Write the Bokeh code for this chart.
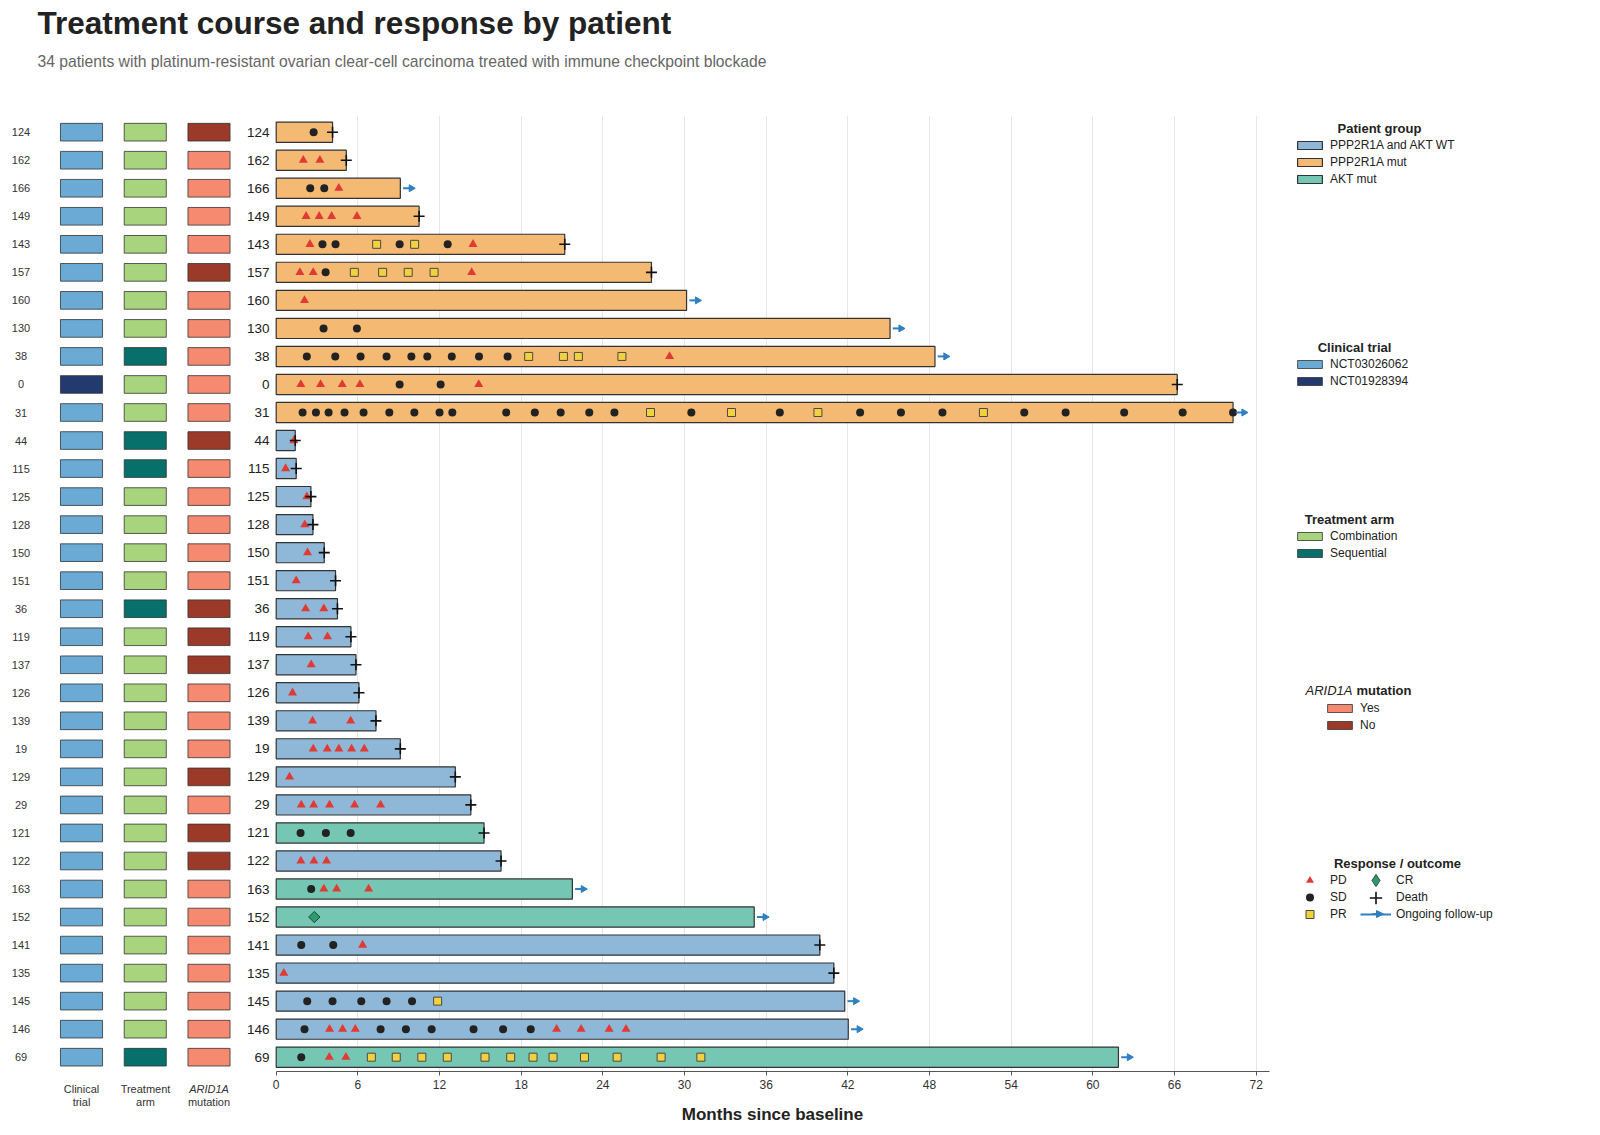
import math
from bokeh.plotting import figure
from bokeh.layouts import column, row
from bokeh.models import (ColumnDataSource, Range1d, FixedTicker, Label, Legend, LegendItem,
                          Arrow, NormalHead)
from bokeh.core.properties import value
from bokeh.embed import file_html
from bokeh.resources import INLINE

# ---------------- data (top row first) ----------------
patients = ["124", "162", "166", "149", "143", "157", "160", "130", "38", "0", "31",
            "44", "115", "125", "128", "150", "151", "36", "119", "137", "126", "139",
            "19", "129", "29", "121", "122", "163", "152", "141", "135", "145", "146", "69"]
group = ["P", "P", "P", "P", "P", "P", "P", "P", "P", "P", "P",
         "W", "W", "W", "W", "W", "W", "W", "W", "W", "W", "W",
         "W", "W", "W", "A", "W", "A", "A", "W", "W", "W", "W", "A"]
trial = ["A", "A", "A", "A", "A", "A", "A", "A", "A", "B", "A",
         "A", "A", "A", "A", "A", "A", "A", "A", "A", "A", "A",
         "A", "A", "A", "A", "A", "A", "A", "A", "A", "A", "A", "A"]
arm = ["C", "C", "C", "C", "C", "C", "C", "C", "S", "C", "C",
       "S", "S", "C", "C", "C", "C", "S", "C", "C", "C", "C",
       "C", "C", "C", "C", "C", "C", "C", "C", "C", "C", "C", "S"]
arid1a = ["N", "Y", "Y", "Y", "Y", "N", "Y", "Y", "Y", "Y", "Y",
          "N", "Y", "Y", "Y", "Y", "Y", "N", "N", "N", "Y", "Y",
          "Y", "N", "Y", "N", "N", "Y", "Y", "Y", "Y", "Y", "Y", "Y"]
duration = [4.14, 5.15, 9.12, 10.5, 21.2, 27.57, 30.15, 45.1, 48.4, 66.2, 70.3,
            1.4, 1.47, 2.55, 2.7, 3.53, 4.36, 4.5, 5.49, 5.86, 6.08, 7.33,
            9.12, 13.16, 14.3, 15.27, 16.52, 21.76, 35.12, 39.94, 40.97, 41.77, 42.03, 61.88]
status = ["D", "D", "O", "D", "D", "D", "O", "O", "O", "D", "O",
          "D", "D", "D", "D", "D", "D", "D", "D", "D", "D", "D",
          "D", "D", "D", "D", "D", "O", "O", "D", "D", "O", "O", "O"]

pd_times = [[], [1.99, 3.21], [4.6], [2.2, 3.16, 4.07, 5.93], [2.48, 14.46],
            [1.74, 2.72, 14.36], [2.08], [], [28.9], [1.81, 3.26, 4.85, 6.15, 14.88], [],
            [1.3], [0.69], [2.25], [2.1], [2.3], [1.47], [2.16, 3.5], [2.35, 3.77], [2.57],
            [1.2], [2.67, 5.47], [2.72, 3.75, 4.6, 5.54, 6.47], [0.98],
            [1.84, 2.75, 3.92, 5.76, 7.67], [], [1.81, 2.77, 3.7], [3.5, 4.44, 6.79], [],
            [6.35], [0.56], [], [3.92, 4.88, 5.81, 20.6, 22.4, 24.46, 25.7], [3.9, 5.12]]
sd_times = [[2.75], [], [2.5, 3.53], [], [3.4, 4.36, 9.07, 12.6], [3.63], [], [3.48, 5.93],
            [2.25, 4.34, 6.2, 8.11, 9.93, 11.1, 12.9, 14.9, 17.0], [9.07, 12.08],
            [1.94, 2.92, 3.85, 5.02, 6.42, 8.31, 10.15, 12.0, 12.94, 16.9, 19.0, 20.9, 23.0,
             24.85, 30.5, 37.0, 42.9, 45.9, 48.95, 54.96, 58.0, 62.3, 66.6, 70.3],
            [], [], [], [], [], [], [], [], [], [], [], [], [], [],
            [1.79, 3.65, 5.47], [], [2.57], [], [1.84, 4.19], [],
            [2.28, 4.14, 6.25, 8.11, 9.98], [2.08, 7.67, 9.53, 11.42, 14.5, 16.67, 18.7], [1.84]]
pr_times = [[], [], [], [], [7.38, 10.17], [5.74, 7.82, 9.7, 11.6], [], [],
            [18.55, 21.1, 22.2, 25.4], [], [27.5, 33.45, 39.8, 51.96],
            [], [], [], [], [], [], [], [], [], [], [], [], [], [], [], [], [], [], [], [],
            [11.86], [],
            [6.99, 8.82, 10.7, 12.57, 15.34, 17.23, 18.87, 20.34, 22.65, 25.05, 28.28, 31.2]]
cr_times = [[] for _ in range(28)] + [[2.8]] + [[] for _ in range(5)]

group_names = {"W": "PPP2R1A and AKT WT", "P": "PPP2R1A mut", "A": "AKT mut"}
trial_names = {"A": "NCT03026062", "B": "NCT01928394"}
arm_names = {"C": "Combination", "S": "Sequential"}
arid_names = {"Y": "Yes", "N": "No"}
x_ticks = [0, 6, 12, 18, 24, 30, 36, 42, 48, 54, 60, 66, 72]

# ---------------- styles ----------------
FONT = "Liberation Sans"
group_colors = {"W": "#8FB8D8", "P": "#F4BA74", "A": "#76C6B4"}
trial_colors = {"A": "#6AAAD4", "B": "#233A6E"}
arm_colors = {"C": "#A8D47E", "S": "#07706A"}
arid_colors = {"Y": "#F58A70", "N": "#9C3A2A"}
PD_COL, SD_COL, PR_COL, CR_COL, ARROW_COL = "#E03A33", "#222222", "#F3D03E", "#2E9A6E", "#2F7FC1"
EDGE = "#333333"

# geometry (pixels)
TOTAL_W = 1580
HEAD_H = 115            # header strip height (frame tops start here)
LEFT_W = 272            # annotation strip width
MAIN_W = 1000           # swimmer frame width
LEG_W = TOTAL_W - LEFT_W - MAIN_W
MAIN_FH = 956           # main frame height (down to the x axis)
SIDE_FH = 1000
PX_PER_MONTH, ZERO_PX = 13.611, 275.7
ROW_PX, ROW0_PX = 28.03, 16.7
ANN_PX, ANN_COL1_PX = 63.75, 81.0

n = len(patients)
rows = list(range(n))
y_top = -ROW0_PX / ROW_PX


def base_fig(fw, fh, xr, yr, **kw):
    f = figure(frame_width=fw, frame_height=fh, x_range=xr, y_range=yr,
               toolbar_location=None, output_backend="svg",
               min_border_left=0, min_border_right=0, min_border_top=0, min_border_bottom=0, **kw)
    f.outline_line_color = None
    f.background_fill_color = "white"
    f.border_fill_color = "white"
    return f


def add_label(fig, txt, x, y, size, style="normal", color="#222222", align="left"):
    fig.add_layout(Label(x=x, y=y, x_units="screen", y_units="screen", text=txt,
                         text_font=FONT, text_font_size=size, text_font_style=style,
                         text_color=color, text_align=align, text_baseline="middle"))


# ---------------- header strip ----------------
head = base_fig(TOTAL_W, HEAD_H, Range1d(0, 1), Range1d(0, 1),
                x_axis_location=None, y_axis_location=None)
head.grid.grid_line_color = None
add_label(head, "Treatment course and response by patient", 37, HEAD_H - 22, "31.5px", "bold", "#222222")
add_label(head, "34 patients with platinum-resistant ovarian clear-cell carcinoma treated with immune checkpoint blockade",
          37, HEAD_H - 60.5, "15.7px", "normal", "#666666")

# ---------------- left annotation strip ----------------
a0 = 1 - ANN_COL1_PX / ANN_PX
left = base_fig(LEFT_W, SIDE_FH, Range1d(a0, a0 + LEFT_W / ANN_PX),
                Range1d(y_top + SIDE_FH / ROW_PX, y_top),
                x_axis_location=None, y_axis_location=None)
left.grid.grid_line_color = None
ann_src = ColumnDataSource(dict(
    row=rows, pid=patients,
    trial_c=[trial_colors[t] for t in trial],
    arm_c=[arm_colors[a] for a in arm],
    arid_c=[arid_colors[a] for a in arid1a],
    c0=[a0 + 20.5 / ANN_PX] * n, c1=[1] * n, c2=[2] * n, c3=[3] * n,
    cl=[a0 + 269 / ANN_PX] * n))
left.text(x="c0", y="row", text="pid", source=ann_src,
          text_font=value(FONT), text_font_size=value("11px"), text_color="#333333",
          text_align="center", text_baseline="middle")
left.text(x="cl", y="row", text="pid", source=ann_src, text_font=value(FONT),
          text_font_size=value("13.5px"), text_color="#222222",
          text_align="right", text_baseline="middle")
for col, cname in [("c1", "trial_c"), ("c2", "arm_c"), ("c3", "arid_c")]:
    left.rect(x=col, y="row", width=0.66, height=0.63, source=ann_src,
              fill_color=cname, line_color=EDGE, line_width=0.8)
LB = HEAD_H + SIDE_FH
for txt, px, py, st in [("Clinical", 81, 1088, "normal"), ("trial", 81, 1101, "normal"),
                        ("Treatment", 145, 1088, "normal"), ("arm", 145, 1101, "normal"),
                        ("ARID1A", 208.5, 1088, "italic"), ("mutation", 208.5, 1101, "normal")]:
    add_label(left, txt, px, LB - py, "11px", st, "#333333", "center")

# ---------------- main swimmer plot ----------------
x0 = -(ZERO_PX - LEFT_W) / PX_PER_MONTH
p = base_fig(MAIN_W, MAIN_FH, Range1d(x0, x0 + MAIN_W / PX_PER_MONTH),
             Range1d(y_top + MAIN_FH / ROW_PX, y_top), y_axis_location=None)
p.xgrid.ticker = FixedTicker(ticks=x_ticks[1:])
p.xgrid.grid_line_color = "#E6E6E6"
p.xgrid.grid_line_width = 1
p.ygrid.grid_line_color = None
ax = p.xaxis[0]
ax.ticker = FixedTicker(ticks=x_ticks)
ax.bounds = (0, 72.95)
ax.axis_line_color = "#555555"
ax.major_tick_line_color = "#555555"
ax.major_tick_out = 4
ax.major_tick_in = 0
ax.minor_tick_line_color = None
ax.major_label_text_font = FONT
ax.major_label_text_font_size = "12px"
ax.major_label_text_color = "#333333"
ax.major_label_standoff = 4
ax.axis_label = "Months since baseline"
ax.axis_label_text_font = FONT
ax.axis_label_text_font_size = "17px"
ax.axis_label_text_font_style = "bold"
ax.axis_label_text_color = "#222222"
ax.axis_label_standoff = 13

bar_src = ColumnDataSource(dict(row=rows, dur=duration,
                                color=[group_colors[g] for g in group]))
p.hbar(y="row", left=0, right="dur", height=0.72, source=bar_src,
       fill_color="color", line_color=EDGE, line_width=1.2)


def flat(times):
    xs, ys = [], []
    for i, ts in enumerate(times):
        for t in ts:
            xs.append(t)
            ys.append(i)
    return dict(x=xs, y=ys)


p.scatter(x="x", y="y", source=ColumnDataSource(flat(pd_times)), marker="triangle",
          size=9, fill_color=PD_COL, line_color=None)
p.scatter(x="x", y="y", source=ColumnDataSource(flat(sd_times)), marker="circle",
          size=8, fill_color=SD_COL, line_color=None)
p.scatter(x="x", y="y", source=ColumnDataSource(flat(pr_times)), marker="square",
          size=8, fill_color=PR_COL, line_color="#4A4A4A", line_width=1)
p.scatter(x="x", y="y", source=ColumnDataSource(flat(cr_times)), marker="square",
          size=8, angle=math.pi / 4, fill_color=CR_COL, line_color="#1E4D3A", line_width=1)

dx = [duration[i] for i in rows if status[i] == "D"]
dy = [i for i in rows if status[i] == "D"]
p.scatter(x=dx, y=dy, marker="cross", size=11, line_color="#111111", line_width=1.6)

ox = [duration[i] for i in rows if status[i] == "O"]
oy = [i for i in rows if status[i] == "O"]
arr_src = ColumnDataSource(dict(x0=[v + 0.2 for v in ox], x1=[v + 0.8 for v in ox],
                                xh=[v + 0.8 for v in ox], y=oy))
p.segment(x0="x0", y0="y", x1="x1", y1="y", source=arr_src,
          line_color=ARROW_COL, line_width=2)
p.scatter(x="xh", y="y", source=arr_src, marker="triangle", size=7,
          angle=-math.pi / 2, fill_color=ARROW_COL, line_color=ARROW_COL)

# ---------------- legend strip (range in pixels) ----------------
LEG_X0 = LEFT_W + MAIN_W
leg = base_fig(LEG_W, SIDE_FH, Range1d(0, LEG_W), Range1d(0, SIDE_FH),
               x_axis_location=None, y_axis_location=None)
leg.grid.grid_line_color = None


def gx(px):
    return px - LEG_X0


def gy(py):
    return LB - py


add_label(leg, "Patient group", gx(1379), gy(128), "13px", "bold", align="center")
add_label(leg, "Clinical trial", gx(1354), gy(347), "13px", "bold", align="center")
add_label(leg, "Treatment arm", gx(1349), gy(519), "13px", "bold", align="center")
add_label(leg, "ARID1A", gx(1352), gy(690), "13px", "italic", align="right")
add_label(leg, "mutation", gx(1356), gy(690), "13px", "bold", align="left")
add_label(leg, "Response / outcome", gx(1397), gy(863), "13px", "bold", align="center")

# legend keys: hidden one-entry renderers (the legend draws their style only)
KEY = dict(x=[0], y=[0])


def swatch(color, lw):
    return leg.rect(x="x", y="y", width=1, height=1, source=ColumnDataSource(KEY),
                    fill_color=color, line_color=EDGE, line_width=lw, visible=False)


def key_marker(**kw):
    return leg.scatter(x="x", y="y", source=ColumnDataSource(KEY), visible=False, **kw)


def make_legend(items, px_left, py_bottom, gw=31, gh=10, lh=14):
    lg = Legend(items=items, location=(gx(px_left), gy(py_bottom)), orientation="vertical",
                glyph_width=gw, glyph_height=gh, label_height=lh, label_standoff=5,
                spacing=3, padding=0, margin=0, border_line_color=None,
                background_fill_alpha=0, inactive_fill_alpha=0, label_text_font=FONT,
                label_text_font_size="12px", label_text_color="#222222")
    leg.add_layout(lg)


make_legend([LegendItem(label=group_names[g], renderers=[swatch(group_colors[g], 1.2)])
             for g in ["W", "P", "A"]], 1294, 186)
make_legend([LegendItem(label=trial_names[t], renderers=[swatch(trial_colors[t], 0.8)])
             for t in ["A", "B"]], 1294, 388)
make_legend([LegendItem(label=arm_names[a], renderers=[swatch(arm_colors[a], 0.8)])
             for a in ["C", "S"]], 1294, 560)
make_legend([LegendItem(label=arid_names[a], renderers=[swatch(arid_colors[a], 0.8)])
             for a in ["Y", "N"]], 1324, 732)

l_pd = key_marker(marker="triangle", fill_color=PD_COL, line_color=None)
l_sd = key_marker(marker="circle", fill_color=SD_COL, line_color=None)
l_pr = key_marker(marker="square", fill_color=PR_COL, line_color="#4A4A4A", line_width=1)
l_cr = key_marker(marker="diamond", fill_color=CR_COL, line_color="#1E4D3A", line_width=1)
l_de = key_marker(marker="cross", line_color="#111111", line_width=1.6)
l_on = leg.segment(x0="x", y0="y", x1="x", y1="y", source=ColumnDataSource(KEY),
                   line_color=ARROW_COL, line_width=2, visible=False)

make_legend([LegendItem(label="PD", renderers=[l_pd])], 1294, 890, gh=20)
make_legend([LegendItem(label="SD", renderers=[l_sd])], 1294, 907, gh=20)
make_legend([LegendItem(label="PR", renderers=[l_pr])], 1294, 923.5, gh=20)
make_legend([LegendItem(label="CR", renderers=[l_cr])], 1360, 895, gh=30)
make_legend([LegendItem(label="Death", renderers=[l_de])], 1360, 912.5, gh=31)
make_legend([LegendItem(label="Ongoing follow-up", renderers=[l_on])], 1360, 923.5, gh=20)

# arrowhead on the "Ongoing follow-up" key line
leg.add_layout(Arrow(end=NormalHead(size=7, fill_color=ARROW_COL, line_color=ARROW_COL, line_width=1),
                     x_start=gx(1372), y_start=gy(913.5), x_end=gx(1383), y_end=gy(913.5),
                     line_color=ARROW_COL, line_width=2))

layout = column(head, row(left, p, leg, spacing=0), spacing=0)
open("out.html", "w").write(file_html(layout, INLINE))
